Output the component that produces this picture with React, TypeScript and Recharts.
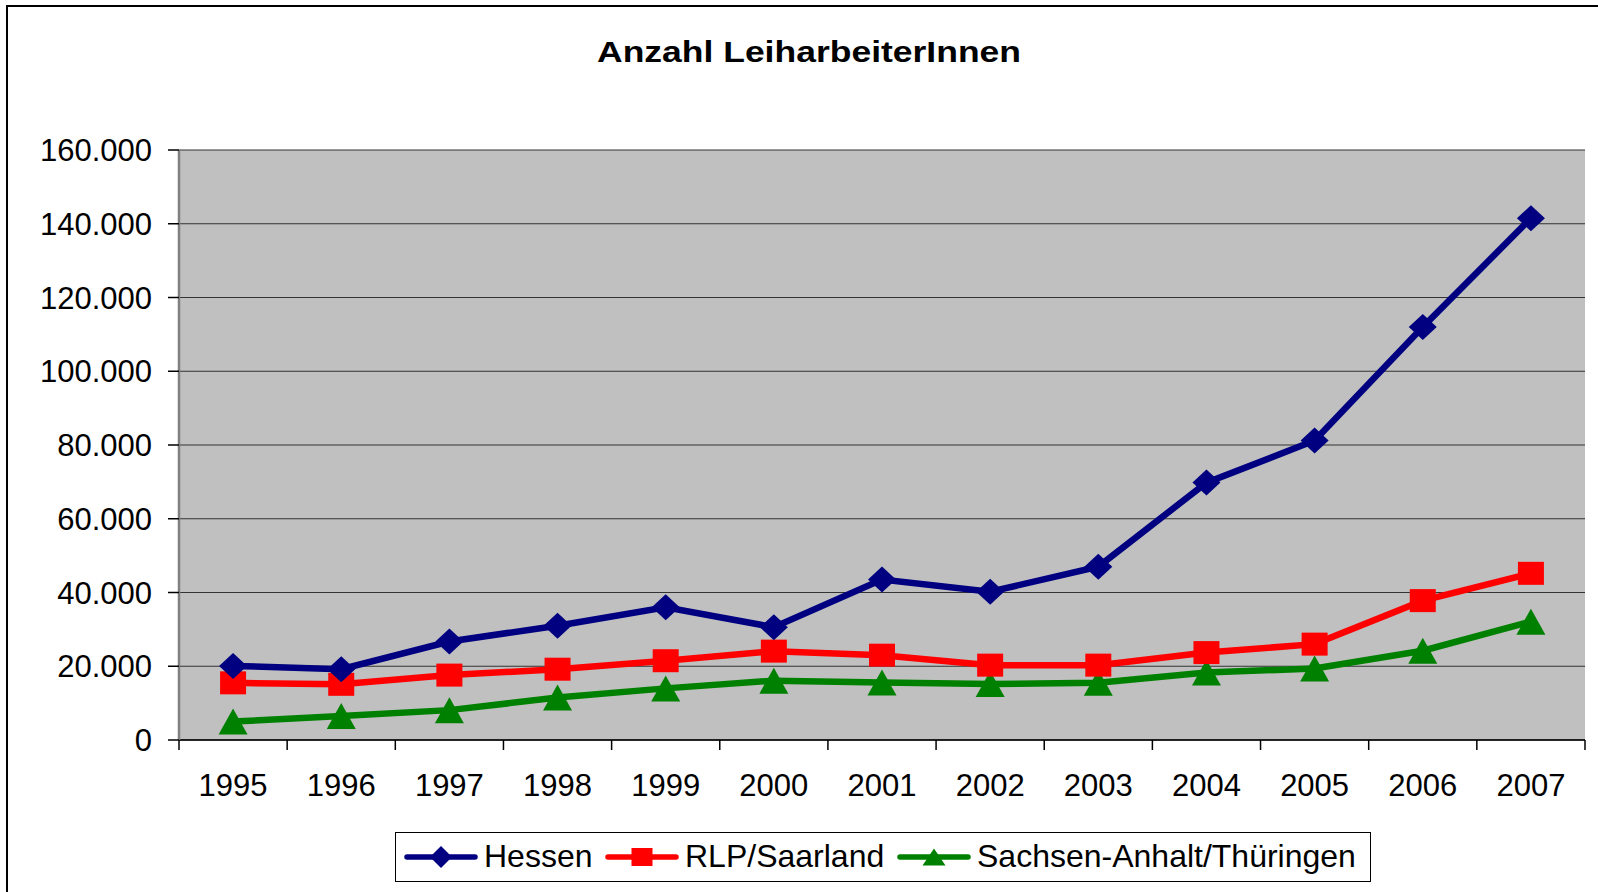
import React from 'react';
import { LineChart, Line, XAxis, YAxis, CartesianGrid } from 'recharts';

// ---- data ----
const years = ['1995', '1996', '1997', '1998', '1999', '2000', '2001', '2002', '2003', '2004', '2005', '2006', '2007'];
const hessen = [20100, 19200, 26700, 31000, 36000, 30600, 43500, 40200, 47000, 69800, 81200, 112000, 141500];
const rlpSaarland = [15500, 15100, 17600, 19200, 21500, 24100, 23000, 20300, 20300, 23700, 26000, 37800, 45200];
const sachsenAnhaltThueringen = [5000, 6500, 8100, 11500, 14000, 16100, 15600, 15200, 15500, 18300, 19400, 24200, 32100];
const yTicks = [0, 20000, 40000, 60000, 80000, 100000, 120000, 140000, 160000];
const seriesNames = ['Hessen', 'RLP/Saarland', 'Sachsen-Anhalt/Thüringen'];
const titleText = 'Anzahl LeiharbeiterInnen';

const data = years.map((year, i) => ({
  year,
  hessen: hessen[i],
  rlp: rlpSaarland[i],
  sachsen: sachsenAnhaltThueringen[i],
}));

const NAVY = '#000080';
const RED = '#ff0000';
const GREEN = '#008000';
const FONT = '"Liberation Sans", Arial, Helvetica, sans-serif';

const fmt = (v: number) => String(v).replace(/\B(?=(\d{3})+(?!\d))/g, '.');

type Shape = 'diamond' | 'square' | 'triangle';

function Marker({ cx, cy, shape, w, h, fill }: { cx: number; cy: number; shape: Shape; w: number; h: number; fill: string }) {
  if (shape === 'diamond') {
    return <polygon points={`${cx},${cy - h / 2} ${cx + w / 2},${cy} ${cx},${cy + h / 2} ${cx - w / 2},${cy}`} fill={fill} />;
  }
  if (shape === 'square') {
    return <rect x={cx - w / 2} y={cy - h / 2} width={w} height={h} fill={fill} />;
  }
  return <polygon points={`${cx},${cy - h / 2} ${cx + w / 2},${cy + h / 2} ${cx - w / 2},${cy + h / 2}`} fill={fill} />;
}

const makeDot = (shape: Shape, w: number, h: number, fill: string) => (p: any) => {
  if (p.cx == null || p.cy == null) return <g key={`e-${p.index}`} />;
  return (
    <g key={`${shape}-${p.index}`}>
      <Marker cx={p.cx} cy={p.cy} shape={shape} w={w} h={h} fill={fill} />
    </g>
  );
};

const X_TICK_SIZE = 10;
const X_TICK_MARGIN = 24;

function XTick(props: any) {
  const { x, y, payload } = props;
  const off = payload && typeof payload.offset === 'number' ? payload.offset : 0;
  const axisY = y - X_TICK_MARGIN - X_TICK_SIZE;
  const isLast = payload.value === years[years.length - 1];
  return (
    <g>
      <line x1={x - off} x2={x - off} y1={axisY} y2={axisY + X_TICK_SIZE} stroke="#000" strokeWidth={1.5} />
      {isLast && <line x1={x + off} x2={x + off} y1={axisY} y2={axisY + X_TICK_SIZE} stroke="#000" strokeWidth={1.5} />}
      <text x={x} y={y} dy={22} textAnchor="middle" fontSize={31} fontFamily={FONT} fill="#000">
        {payload.value}
      </text>
    </g>
  );
}

function YTick(props: any) {
  const { x, y, payload } = props;
  return (
    <text x={x} y={y} dy={11} textAnchor="end" fontSize={31} fontFamily={FONT} fill="#000">
      {fmt(payload.value)}
    </text>
  );
}

const legendItems: { name: string; color: string; shape: Shape; w: number; h: number; left: number }[] = [
  { name: seriesNames[0], color: NAVY, shape: 'diamond', w: 22, h: 22, left: 8 },
  { name: seriesNames[1], color: RED, shape: 'square', w: 21, h: 18, left: 209 },
  { name: seriesNames[2], color: GREEN, shape: 'triangle', w: 23, h: 17, left: 501 },
];

export default function App() {
  return (
    <div style={{ position: 'absolute', left: 0, top: 0, width: 1598, height: 892, overflow: 'hidden', background: '#fff' }}>
      <div
        style={{
          position: 'absolute',
          left: 6,
          top: 5,
          width: 1700,
          height: 1000,
          borderLeft: '2px solid #000',
          borderTop: '2px solid #000',
        }}
      />
      <div style={{ position: 'absolute', left: 0, top: 0 }}>
        <LineChart width={1598} height={892} data={data} margin={{ top: 150, right: 13, left: 0, bottom: 0 }}>
          <CartesianGrid
            xAxisId="cat"
            yAxisId="left"
            vertical={false}
            horizontal={true}
            stroke="#333"
            strokeWidth={1}
            fill="#c0c0c0"
            fillOpacity={1}
          />
          <XAxis
            xAxisId="cat"
            dataKey="year"
            scale="band"
            height={152}
            interval={0}
            tickSize={X_TICK_SIZE}
            tickMargin={X_TICK_MARGIN}
            tickLine={false}
            axisLine={{ stroke: '#000', strokeWidth: 1.5 }}
            tick={<XTick />}
          />
          <XAxis xAxisId="top" dataKey="year" scale="band" orientation="top" height={0} tick={false} tickLine={false} axisLine={{ stroke: '#808080', strokeWidth: 2 }} />
          <YAxis
            yAxisId="left"
            width={179}
            type="number"
            domain={[0, 160000]}
            ticks={yTicks}
            interval={0}
            tickSize={11}
            tickMargin={16}
            tickLine={{ stroke: '#000', strokeWidth: 1.5 }}
            axisLine={{ stroke: '#808080', strokeWidth: 2.5 }}
            tick={<YTick />}
          />
          <YAxis
            yAxisId="right"
            orientation="right"
            width={0}
            type="number"
            domain={[0, 160000]}
            tick={false}
            tickLine={false}
            axisLine={{ stroke: '#808080', strokeWidth: 3 }}
          />
          <Line
            xAxisId="cat"
            yAxisId="left"
            type="linear"
            dataKey="sachsen"
            name={seriesNames[2]}
            stroke={GREEN}
            strokeWidth={6.5}
            dot={makeDot('triangle', 29, 26, GREEN)}
            activeDot={false}
            isAnimationActive={false}
          />
          <Line
            xAxisId="cat"
            yAxisId="left"
            type="linear"
            dataKey="rlp"
            name={seriesNames[1]}
            stroke={RED}
            strokeWidth={6.5}
            dot={makeDot('square', 26, 23, RED)}
            activeDot={false}
            isAnimationActive={false}
          />
          <Line
            xAxisId="cat"
            yAxisId="left"
            type="linear"
            dataKey="hessen"
            name={seriesNames[0]}
            stroke={NAVY}
            strokeWidth={6.5}
            dot={makeDot('diamond', 28, 26, NAVY)}
            activeDot={false}
            isAnimationActive={false}
          />
        </LineChart>
      </div>
      <svg style={{ position: 'absolute', left: 0, top: 0 }} width={1598} height={120}>
        <text
          x={809}
          y={62}
          textAnchor="middle"
          fontSize={30}
          fontWeight="bold"
          fontFamily={FONT}
          fill="#000"
          textLength={424}
          lengthAdjust="spacingAndGlyphs"
        >
          {titleText}
        </text>
      </svg>
      <div
        style={{
          position: 'absolute',
          left: 395,
          top: 832,
          width: 976,
          height: 50,
          border: '1.5px solid #000',
          background: '#fff',
          boxSizing: 'border-box',
          fontFamily: FONT,
        }}
      >
        {legendItems.map((it) => (
          <div key={it.name} style={{ position: 'absolute', left: it.left, top: 0, height: 47, display: 'flex', alignItems: 'center' }}>
            <svg width={74} height={30} style={{ display: 'block' }}>
              <line x1={3} x2={71} y1={15} y2={15} stroke={it.color} strokeWidth={5.5} strokeLinecap="round" />
              <Marker cx={37} cy={15} shape={it.shape} w={it.w} h={it.h} fill={it.color} />
            </svg>
            <span style={{ marginLeft: 6, fontSize: 32, color: '#000', whiteSpace: 'nowrap', lineHeight: '47px' }}>{it.name}</span>
          </div>
        ))}
      </div>
    </div>
  );
}
